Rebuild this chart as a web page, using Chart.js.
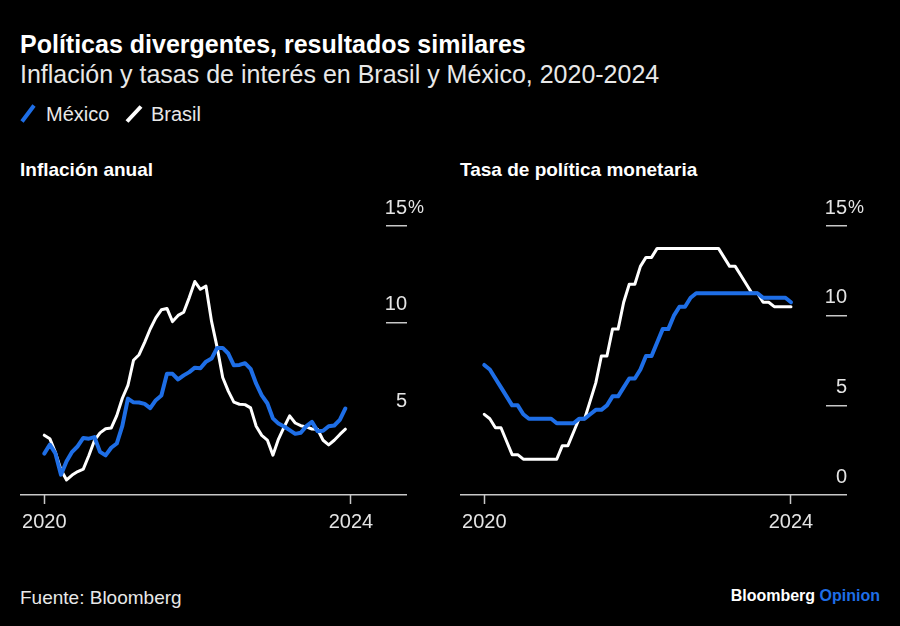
<!DOCTYPE html>
<html>
<head>
<meta charset="utf-8">
<script src="https://cdn.jsdelivr.net/npm/chart.js@4.4.1/dist/chart.umd.min.js"></script>
<style>
html, body { margin: 0; padding: 0; background: #000; }
body { width: 900px; height: 626px; position: relative; overflow: hidden;
       font-family: 'Liberation Sans', Arial, sans-serif; color: #fff; }
.t { position: absolute; white-space: nowrap; }
canvas { position: absolute; }
</style>
</head>
<body>
<div class="t" style="left:20px;top:32px;font-size:25px;line-height:25px;font-weight:bold;">Políticas divergentes, resultados similares</div>
<div class="t" style="left:20px;top:62px;font-size:25px;line-height:25px;color:#e8e8e8;">Inflación y tasas de interés en Brasil y México, 2020-2024</div>

<svg style="position:absolute;left:20px;top:103px" width="18" height="22"><line x1="2" y1="18.5" x2="14" y2="2.5" stroke="#1e6ee6" stroke-width="4"/></svg>
<div class="t" style="left:46px;top:104px;font-size:20px;line-height:20px;color:#e8e8e8;">México</div>
<svg style="position:absolute;left:124px;top:103px" width="22" height="22"><line x1="3" y1="18.5" x2="17" y2="3.5" stroke="#ffffff" stroke-width="4"/></svg>
<div class="t" style="left:151px;top:104px;font-size:20px;line-height:20px;color:#e8e8e8;">Brasil</div>

<div class="t" style="left:20px;top:160px;font-size:19px;line-height:19px;font-weight:bold;">Inflación anual</div>
<div class="t" style="left:460px;top:160px;font-size:19px;line-height:19px;font-weight:bold;">Tasa de política monetaria</div>

<canvas id="c1" width="450" height="360" style="left:0px;top:180px;"></canvas>
<canvas id="c2" width="460" height="360" style="left:440px;top:180px;"></canvas>

<div class="t" style="left:20px;top:588px;font-size:19px;line-height:19px;color:#e8e8e8;">Fuente: Bloomberg</div>
<div class="t" style="right:20px;top:588px;font-size:16px;line-height:16px;font-weight:bold;"><span style="color:#fff;">Bloomberg</span> <span style="color:#1e6ee6;">Opinion</span></div>

<script>
// Monthly dates, Jan 2020 .. Aug 2024
const months = [];
for (let y = 2020; y <= 2024; y++) {
  for (let m = 1; m <= 12; m++) {
    if (y === 2024 && m > 8) break;
    months.push(y + '-' + String(m).padStart(2, '0'));
  }
}

// Annual inflation, % (Jan 2020 .. Jul 2024)
const mexicoInflation = [
  3.24, 3.70, 3.25, 2.15, 2.84, 3.33, 3.62, 4.05, 4.01, 4.09, 3.33, 3.15,
  3.54, 3.76, 4.67, 6.08, 5.89, 5.88, 5.81, 5.59, 6.00, 6.24, 7.37, 7.36,
  7.07, 7.28, 7.45, 7.68, 7.65, 7.99, 8.15, 8.70, 8.70, 8.41, 7.80, 7.82,
  7.91, 7.62, 6.85, 6.25, 5.84, 5.06, 4.79, 4.64, 4.45, 4.26, 4.32, 4.66,
  4.88, 4.40, 4.42, 4.65, 4.69, 4.98, 5.57
];
const brasilInflation = [
  4.19, 4.01, 3.30, 2.40, 1.88, 2.13, 2.31, 2.44, 3.14, 3.92, 4.31, 4.52,
  4.56, 5.20, 6.10, 6.76, 8.06, 8.35, 8.99, 9.68, 10.25, 10.67, 10.74, 10.06,
  10.38, 10.54, 11.30, 12.13, 11.73, 11.89, 10.07, 8.73, 7.17, 6.47, 5.90, 5.79,
  5.77, 5.60, 4.65, 4.18, 3.94, 3.16, 3.99, 4.61, 5.19, 4.82, 4.68, 4.62,
  4.51, 4.50, 3.93, 3.69, 3.93, 4.23, 4.50
];

// Policy rate, % (Jan 2020 .. Aug 2024)
const mexicoRate = [
  7.25, 7.00, 6.50, 6.00, 5.50, 5.00, 5.00, 4.50, 4.25, 4.25, 4.25, 4.25,
  4.25, 4.00, 4.00, 4.00, 4.00, 4.25, 4.25, 4.50, 4.75, 4.75, 5.00, 5.50,
  5.50, 6.00, 6.50, 6.50, 7.00, 7.75, 7.75, 8.50, 9.25, 9.25, 10.00, 10.50,
  10.50, 11.00, 11.25, 11.25, 11.25, 11.25, 11.25, 11.25, 11.25, 11.25, 11.25, 11.25,
  11.25, 11.25, 11.00, 11.00, 11.00, 11.00, 11.00, 10.75
];
const brasilRate = [
  4.50, 4.25, 3.75, 3.75, 3.00, 2.25, 2.25, 2.00, 2.00, 2.00, 2.00, 2.00,
  2.00, 2.00, 2.75, 2.75, 3.50, 4.25, 4.25, 5.25, 6.25, 7.75, 7.75, 9.25,
  9.25, 10.75, 11.75, 11.75, 12.75, 13.25, 13.25, 13.75, 13.75, 13.75, 13.75, 13.75,
  13.75, 13.75, 13.75, 13.75, 13.75, 13.75, 13.75, 13.25, 12.75, 12.75, 12.25, 11.75,
  11.25, 11.25, 10.75, 10.75, 10.50, 10.50, 10.50, 10.50
];

// Axis ticks
const xTickIndex = [0, 55];          // first and last month on the axis
const yTicksInflation = [5, 10, 15];
const yTicksRate = [0, 5, 10, 15];

const FONT = "'Liberation Sans', Arial, sans-serif";
const BLUE = '#1e6ee6';
const WHITE = '#ffffff';
const AXIS = '#c8c8c8';
const TXT = '#e4e4e4';
const NONE = 'rgba(0,0,0,0)';

const pts = arr => arr.map((v, i) => ({ x: i, y: v }));

const pctPlugin = {
  id: 'pct',
  afterDraw(chart) {
    const s = chart.scales.y;
    const c = chart.ctx;
    c.save();
    c.font = '18px ' + FONT;
    c.fillStyle = TXT;
    c.textAlign = 'left';
    c.textBaseline = 'middle';
    c.fillText('%', s.left + 22, s.getPixelForValue(15) - 18);
    c.restore();
  }
};

function makeChart(id, mex, bra, yMin, yTickVals, hiddenTicks, padRight) {
  const allTicks = yTickVals.includes(yMin) ? yTickVals : [yMin].concat(yTickVals);
  return new Chart(document.getElementById(id), {
    type: 'line',
    data: {
      datasets: [
        { label: 'México', data: pts(mex), borderColor: BLUE, borderWidth: 4,
          pointRadius: 0, tension: 0, borderJoinStyle: 'round', borderCapStyle: 'round', order: 0 },
        { label: 'Brasil', data: pts(bra), borderColor: WHITE, borderWidth: 3,
          pointRadius: 0, tension: 0, borderJoinStyle: 'round', borderCapStyle: 'round', order: 1 }
      ]
    },
    options: {
      responsive: false,
      animation: false,
      devicePixelRatio: 1,
      layout: { padding: { left: 20, right: padRight, top: 46, bottom: 0 } },
      plugins: { legend: { display: false }, tooltip: { enabled: false } },
      scales: {
        x: {
          type: 'linear', min: -4.35, max: 61.28,
          afterBuildTicks: s => { s.ticks = xTickIndex.map(v => ({ value: v })); },
          afterFit: s => { s.height = 45; },
          border: { display: false },
          grid: { drawOnChartArea: false, drawTicks: true, tickLength: 9, tickWidth: 1.5, tickColor: AXIS },
          ticks: { padding: 6, color: TXT, font: { family: FONT, size: 20 }, maxRotation: 0, autoSkip: false,
                   callback: v => months[v].slice(0, 4) }
        },
        y: {
          type: 'linear', position: 'right', min: yMin, max: 15,
          afterBuildTicks: s => { s.ticks = allTicks.map(v => ({ value: v })); },
          afterFit: s => { s.width = 21; },
          border: { display: false },
          grid: { drawOnChartArea: true, drawTicks: true, tickLength: 21, lineWidth: 1.5, tickWidth: 1.5,
                  color: ctx => ctx.tick.value === yMin ? AXIS : NONE,
                  tickColor: ctx => hiddenTicks.includes(ctx.tick.value) ? NONE : AXIS },
          ticks: { padding: -22, crossAlign: 'far', labelOffset: -18, color: TXT, autoSkip: false,
                   font: { family: FONT, size: 20 },
                   callback: v => yTickVals.includes(v) ? String(v) : '' }
        }
      }
    },
    plugins: [pctPlugin]
  });
}

makeChart('c1', mexicoInflation, brasilInflation, 1.1, yTicksInflation, [5], 43);
makeChart('c2', mexicoRate, brasilRate, 0, yTicksRate, [], 53);
</script>
</body>
</html>
